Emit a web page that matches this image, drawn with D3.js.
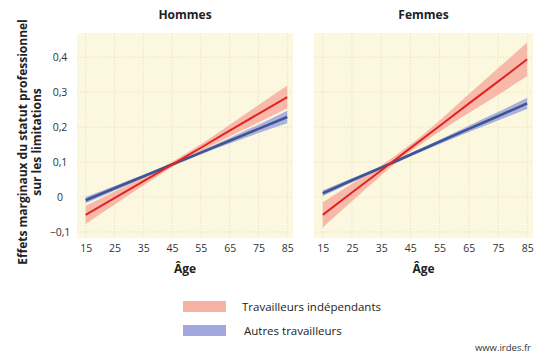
<!DOCTYPE html>
<html>
<head>
<meta charset="utf-8">
<script src="https://cdn.jsdelivr.net/npm/d3@7"></script>
<style>
  body { margin: 0; background: #fff; }
  svg { display: block; font-family: "Open Sans", "Liberation Sans", sans-serif; }
</style>
</head>
<body>
<svg id="chart" width="537" height="358"></svg>
<script>
// Age points
const ages = [15, 25, 35, 45, 55, 65, 75, 85];
const xTicks = [15, 25, 35, 45, 55, 65, 75, 85];
const yTicks = [-0.1, 0, 0.1, 0.2, 0.3, 0.4];
const panels = ["Hommes", "Femmes"];
const seriesNames = ["Travailleurs indépendants", "Autres travailleurs"];

// Hommes: marginal effect and half-width of the confidence band
const hommesIndep     = [-0.051, -0.003, 0.045, 0.093, 0.141, 0.190, 0.238, 0.286];
const hommesIndepCI   = [0.026, 0.019, 0.012, 0.008, 0.010, 0.017, 0.025, 0.033];
const hommesAutres    = [-0.009, 0.025, 0.059, 0.093, 0.127, 0.161, 0.195, 0.229];
const hommesAutresCI  = [0.009, 0.007, 0.005, 0.004, 0.005, 0.008, 0.012, 0.018];

// Femmes
const femmesIndep     = [-0.051, 0.013, 0.076, 0.140, 0.203, 0.267, 0.330, 0.394];
const femmesIndepCI   = [0.036, 0.025, 0.014, 0.010, 0.016, 0.027, 0.038, 0.048];
const femmesAutres    = [0.011, 0.048, 0.084, 0.121, 0.158, 0.195, 0.231, 0.268];
const femmesAutresCI  = [0.008, 0.006, 0.005, 0.005, 0.006, 0.009, 0.012, 0.016];

const panelData = [
  { title: panels[0], left: 77, right: 293,
    series: [
      { name: seriesNames[1], v: hommesAutres, ci: hommesAutresCI },
      { name: seriesNames[0], v: hommesIndep, ci: hommesIndepCI }
    ] },
  { title: panels[1], left: 314, right: 533,
    series: [
      { name: seriesNames[1], v: femmesAutres, ci: femmesAutresCI },
      { name: seriesNames[0], v: femmesIndep, ci: femmesIndepCI }
    ] }
];

const colors = {
  "Travailleurs indépendants": { band: "#f6b3a4", line: "#e3231f" },
  "Autres travailleurs": { band: "#a2a7dd", line: "#3d5592" }
};

const svg = d3.select("#chart");
const plotTop = 33, plotBottom = 238;
const y = d3.scaleLinear().domain([-0.117, 0.469]).range([plotBottom, plotTop]);
const fmt = d => d === 0 ? "0" : d3.format(".1f")(d).replace(".", ",");

panelData.forEach((p, pi) => {
  const x = d3.scaleLinear().domain([12, 87]).range([p.left, p.right]);
  const g = svg.append("g");

  g.append("rect")
    .attr("x", p.left).attr("y", plotTop)
    .attr("width", p.right - p.left).attr("height", plotBottom - plotTop)
    .attr("fill", "#fcf8df");

  // dotted grid
  g.append("g").selectAll("line").data(xTicks).join("line")
    .attr("x1", d => x(d)).attr("x2", d => x(d))
    .attr("y1", plotTop).attr("y2", plotBottom)
    .attr("stroke", "#e8e1bd").attr("stroke-width", 0.8)
    .attr("stroke-dasharray", "1.5,1.5");
  g.append("g").selectAll("line").data(yTicks).join("line")
    .attr("x1", p.left).attr("x2", p.right)
    .attr("y1", d => y(d)).attr("y2", d => y(d))
    .attr("stroke", "#e8e1bd").attr("stroke-width", 0.8)
    .attr("stroke-dasharray", "1.5,1.5");

  // confidence bands
  p.series.forEach(s => {
    const pts = ages.map((a, i) => ({ a, v: s.v[i], ci: s.ci[i] }));
    const area = d3.area()
      .x(d => x(d.a)).y0(d => y(d.v - d.ci)).y1(d => y(d.v + d.ci))
      .curve(d3.curveMonotoneX);
    g.append("path").datum(pts).attr("d", area)
      .attr("fill", colors[s.name].band).attr("opacity", 0.9);
  });
  // effect lines
  p.series.forEach(s => {
    const pts = ages.map((a, i) => ({ a, v: s.v[i] }));
    const line = d3.line().x(d => x(d.a)).y(d => y(d.v));
    g.append("path").datum(pts).attr("d", line)
      .attr("fill", "none").attr("stroke", colors[s.name].line)
      .attr("stroke-width", s.name === seriesNames[0] ? 2 : 2.6);
  });

  // x ticks
  const xAxis = d3.axisBottom(x).tickValues(xTicks).tickSize(0).tickPadding(0);
  const xa = g.append("g").attr("transform", `translate(0,${plotBottom + 7})`).call(xAxis);
  xa.select(".domain").remove();
  xa.selectAll("text").attr("font-size", 10.5).attr("fill", "#333")
    .attr("font-family", "'Open Sans', sans-serif");

  g.append("text").attr("x", (p.left + p.right) / 2).attr("y", 273)
    .attr("text-anchor", "middle").attr("font-size", 12).attr("font-weight", "bold")
    .attr("fill", "#222").text("Âge");

  g.append("text").attr("x", (p.left + p.right) / 2).attr("y", 19)
    .attr("text-anchor", "middle").attr("font-size", 12).attr("font-weight", "bold")
    .attr("fill", "#222").text(p.title);

  if (pi === 0) {
    const yAxis = d3.axisLeft(y).tickValues(yTicks).tickSize(0).tickPadding(0).tickFormat(fmt);
    const ya = g.append("g").attr("transform", `translate(60,0)`).call(yAxis);
    ya.select(".domain").remove();
    ya.selectAll("text").attr("text-anchor", "middle").attr("font-size", 10.5)
      .attr("fill", "#333").attr("font-family", "'Open Sans', sans-serif");
  }
});

// y axis title
const yt = svg.append("text")
  .attr("transform", "translate(0,142) rotate(-90)")
  .attr("text-anchor", "middle").attr("font-size", 12).attr("font-weight", "bold")
  .attr("fill", "#222");
yt.append("tspan").attr("x", 0).attr("y", 27).text("Effets marginaux du statut professionnel");
yt.append("tspan").attr("x", 0).attr("y", 41).text("sur les limitations");

// legend
const legend = svg.append("g");
seriesNames.forEach((name, i) => {
  const ly = 301 + i * 24;
  legend.append("rect").attr("x", 183).attr("y", ly).attr("width", 43).attr("height", 11)
    .attr("fill", colors[name].band);
  legend.append("text").attr("x", 242 + i * 2).attr("y", ly + 10)
    .attr("font-size", 11.5).attr("fill", "#222").text(name);
});

svg.append("text").attr("x", 531).attr("y", 351).attr("text-anchor", "end")
  .attr("font-size", 9.5).attr("fill", "#333").text("www.irdes.fr");
</script>
</body>
</html>
